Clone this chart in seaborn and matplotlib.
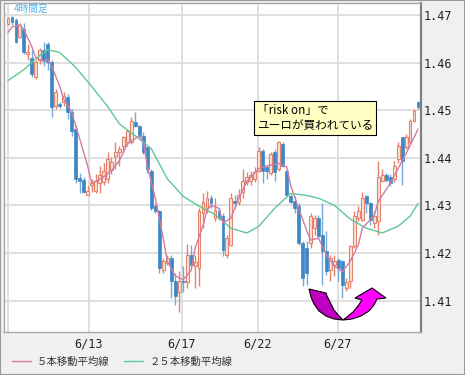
import numpy as np
import matplotlib
matplotlib.use("Agg")
import matplotlib.pyplot as plt
import seaborn as sns
from matplotlib.lines import Line2D
from matplotlib.patches import Polygon, Rectangle

# 4-hour candles (EUR/USD)
opens = [1.4681, 1.4696, 1.4690, 1.4654, 1.4671, 1.4617, 1.4610, 1.4569, 1.4606, 1.4627,
         1.4638, 1.4602, 1.4508, 1.4513, 1.4517, 1.4527, 1.4496, 1.4460, 1.4358, 1.4354,
         1.4321, 1.4342, 1.4331, 1.4346, 1.4350, 1.4356, 1.4375, 1.4404, 1.4413, 1.4425,
         1.4433, 1.4433, 1.4475, 1.4467, 1.4446, 1.4423, 1.4373, 1.4298, 1.4288, 1.4165,
         1.4179, 1.4190, 1.4142, 1.4117, 1.4142, 1.4138, 1.4196, 1.4173, 1.4169, 1.4283,
         1.4294, 1.4315, 1.4273, 1.4288, 1.4277, 1.4196, 1.4217, 1.4310, 1.4308, 1.4329,
         1.4350, 1.4352, 1.4356, 1.4373, 1.4415, 1.4381, 1.4367, 1.4413, 1.4377, 1.4429,
         1.4373, 1.4319, 1.4310, 1.4298, 1.4221, 1.4210, 1.4221, 1.4252, 1.4273, 1.4238,
         1.4204, 1.4165, 1.4175, 1.4185, 1.4183, 1.4127, 1.4142, 1.4215, 1.4273, 1.4269,
         1.4319, 1.4304, 1.4263, 1.4267, 1.4352, 1.4363, 1.4360, 1.4356, 1.4398, 1.4444,
         1.4423, 1.4433, 1.4477, 1.4517]
closes = [1.4694, 1.4685, 1.4644, 1.4679, 1.4623, 1.4623, 1.4575, 1.4602, 1.4627, 1.4606,
          1.4602, 1.4506, 1.4538, 1.4508, 1.4529, 1.4496, 1.4456, 1.4356, 1.4352, 1.4329,
          1.4331, 1.4346, 1.4352, 1.4363, 1.4373, 1.4398, 1.4392, 1.4413, 1.4419, 1.4444,
          1.4456, 1.4477, 1.4467, 1.4446, 1.4413, 1.4377, 1.4294, 1.4288, 1.4169, 1.4183,
          1.4190, 1.4142, 1.4110, 1.4142, 1.4138, 1.4196, 1.4175, 1.4181, 1.4288, 1.4308,
          1.4315, 1.4304, 1.4290, 1.4273, 1.4206, 1.4231, 1.4315, 1.4304, 1.4321, 1.4352,
          1.4360, 1.4363, 1.4371, 1.4415, 1.4373, 1.4373, 1.4408, 1.4371, 1.4433, 1.4383,
          1.4321, 1.4308, 1.4294, 1.4221, 1.4148, 1.4158, 1.4277, 1.4273, 1.4235, 1.4204,
          1.4163, 1.4190, 1.4183, 1.4169, 1.4133, 1.4138, 1.4215, 1.4277, 1.4288, 1.4315,
          1.4304, 1.4269, 1.4277, 1.4360, 1.4363, 1.4354, 1.4346, 1.4383, 1.4425, 1.4394,
          1.4444, 1.4477, 1.4498, 1.4506]
highs = [1.4696, 1.4698, 1.4694, 1.4683, 1.4683, 1.4638, 1.4627, 1.4606, 1.4631, 1.4644,
         1.4644, 1.4606, 1.4544, 1.4517, 1.4538, 1.4533, 1.4502, 1.4469, 1.4367, 1.4360,
         1.4340, 1.4356, 1.4365, 1.4383, 1.4388, 1.4413, 1.4402, 1.4433, 1.4425, 1.4446,
         1.4460, 1.4485, 1.4496, 1.4469, 1.4454, 1.4425, 1.4377, 1.4304, 1.4290, 1.4190,
         1.4196, 1.4196, 1.4158, 1.4163, 1.4173, 1.4219, 1.4217, 1.4196, 1.4294, 1.4325,
         1.4331, 1.4321, 1.4315, 1.4294, 1.4283, 1.4238, 1.4325, 1.4321, 1.4335, 1.4377,
         1.4371, 1.4373, 1.4381, 1.4423, 1.4419, 1.4383, 1.4413, 1.4419, 1.4435, 1.4433,
         1.4377, 1.4323, 1.4319, 1.4304, 1.4225, 1.4225, 1.4283, 1.4279, 1.4279, 1.4304,
         1.4246, 1.4196, 1.4196, 1.4190, 1.4185, 1.4148, 1.4217, 1.4288, 1.4298, 1.4329,
         1.4321, 1.4308, 1.4288, 1.4394, 1.4377, 1.4367, 1.4365, 1.4394, 1.4433, 1.4444,
         1.4450, 1.4481, 1.4502, 1.4519]
lows = [1.4679, 1.4679, 1.4642, 1.4652, 1.4617, 1.4606, 1.4569, 1.4565, 1.4596, 1.4592,
        1.4585, 1.4485, 1.4502, 1.4504, 1.4508, 1.4481, 1.4446, 1.4346, 1.4325, 1.4325,
        1.4321, 1.4329, 1.4325, 1.4325, 1.4342, 1.4346, 1.4365, 1.4377, 1.4383, 1.4413,
        1.4425, 1.4429, 1.4465, 1.4444, 1.4408, 1.4367, 1.4290, 1.4283, 1.4158, 1.4158,
        1.4175, 1.4106, 1.4090, 1.4075, 1.4117, 1.4127, 1.4173, 1.4127, 1.4131, 1.4252,
        1.4283, 1.4294, 1.4267, 1.4269, 1.4194, 1.4190, 1.4215, 1.4294, 1.4300, 1.4315,
        1.4342, 1.4342, 1.4350, 1.4371, 1.4346, 1.4356, 1.4363, 1.4352, 1.4373, 1.4381,
        1.4319, 1.4304, 1.4283, 1.4217, 1.4131, 1.4133, 1.4210, 1.4238, 1.4231, 1.4133,
        1.4154, 1.4142, 1.4152, 1.4142, 1.4106, 1.4121, 1.4127, 1.4210, 1.4267, 1.4267,
        1.4283, 1.4258, 1.4252, 1.4238, 1.4352, 1.4350, 1.4340, 1.4350, 1.4388, 1.4342,
        1.4419, 1.4429, 1.4475, 1.4502]

# moving averages, read at selected bars
ma5_bar = [0, 1, 3, 4, 6, 7, 9, 10, 11, 13, 14, 16, 18, 20, 21, 22, 24, 26, 28, 30,
           33, 34, 35, 37, 39, 40, 42, 44, 46, 47, 49, 50, 51, 53, 54, 56, 58, 60, 63, 65,
           68, 70, 71, 73, 75, 76, 78, 80, 82, 84, 86, 88, 89, 92, 93, 96, 98, 101, 103]
ma5_val = [1.4663, 1.4675, 1.4679, 1.4669, 1.4633, 1.4610, 1.4602, 1.4606, 1.4592, 1.4550,
           1.4523, 1.4496, 1.4440, 1.4383, 1.4348, 1.4350, 1.4360, 1.4373, 1.4394, 1.4429,
           1.4446, 1.4433, 1.4383, 1.4315, 1.4231, 1.4183, 1.4152, 1.4144, 1.4163, 1.4210,
           1.4258, 1.4290, 1.4300, 1.4294, 1.4263, 1.4273, 1.4315, 1.4350, 1.4377, 1.4383,
           1.4388, 1.4381, 1.4342, 1.4294, 1.4248, 1.4227, 1.4231, 1.4196, 1.4173, 1.4160,
           1.4183, 1.4217, 1.4252, 1.4279, 1.4308, 1.4346, 1.4377, 1.4425, 1.4460]
ma25_bar = [0, 4, 8, 10, 13, 17, 21, 25, 28, 32, 36, 40, 44, 48, 52, 56, 60, 63, 67, 71,
            75, 78, 82, 86, 90, 94, 98, 101, 103]
ma25_val = [1.4562, 1.4585, 1.4615, 1.4627, 1.4621, 1.4590, 1.4550, 1.4508, 1.4471, 1.4446,
            1.4419, 1.4356, 1.4319, 1.4298, 1.4281, 1.4252, 1.4242, 1.4256, 1.4294, 1.4325,
            1.4321, 1.4315, 1.4300, 1.4271, 1.4252, 1.4242, 1.4256, 1.4277, 1.4304]

date_pos = [0, 20.35, 43.7, 62.8, 82.9]
date_labels = ["", "6/13", "6/17", "6/22", "6/27"]
price_ticks = [1.41, 1.42, 1.43, 1.44, 1.45, 1.46, 1.47]

sns.set_theme(style="white")
plt.rcParams["font.family"] = ["Noto Sans CJK JP", "DejaVu Sans"]

W, H = 465, 375


def fx(x):
    return x / W


def fy(y):
    return 1 - y / H


fig = plt.figure(figsize=(W / 100, H / 100), dpi=100, facecolor="#f0f0f0")
ax = fig.add_axes([fx(4), fy(332), (421 - 4) / W, (332 - 3) / H])
ax.set_facecolor("white")

o = np.array(opens)
c = np.array(closes)
h = np.array(highs)
l = np.array(lows)
idx = np.arange(len(c))
up = c >= o

up_edge, up_fill = "#e5826c", "#fbe2da"
dn_body, dn_wick = "#3f86c4", "#73aad9"

ax.vlines(idx[up], l[up], h[up], color=up_edge, lw=1, zorder=2)
ax.vlines(idx[~up], l[~up], h[~up], color=dn_wick, lw=1, zorder=2)
ax.bar(idx[up], np.maximum(c - o, 0.0001)[up], bottom=o[up], width=0.72,
       facecolor=up_fill, edgecolor=up_edge, lw=0.8, zorder=3)
ax.bar(idx[~up], np.maximum(o - c, 0.0001)[~up], bottom=c[~up], width=0.72,
       facecolor=dn_body, edgecolor=dn_body, lw=0.5, zorder=3)

ma5_color, ma25_color = "#d27ca3", "#5cc998"
sns.lineplot(x=ma25_bar, y=ma25_val, color=ma25_color, lw=1, ax=ax, zorder=4)
sns.lineplot(x=ma5_bar, y=ma5_val, color=ma5_color, lw=1, ax=ax, zorder=5)

ax.set_xlim(-1.0, 103.75)
ax.set_ylim(1.4034, 1.4725)
ax.set_xticks(date_pos)
ax.set_xticklabels(date_labels, family="DejaVu Sans Mono", fontsize=8.5, color="#222222")
ax.set_yticks(price_ticks)
ax.set_yticklabels([f"{t:.2f}" for t in price_ticks], family="DejaVu Sans Mono",
                   fontsize=8.5, color="#222222")
ax.yaxis.tick_right()
ax.tick_params(axis="y", length=0, pad=2)
ax.tick_params(axis="x", length=0, pad=4)
ax.grid(True, color="#dcdcdc", lw=1.3, zorder=0)
ax.set_axisbelow(True)
ax.set_xlabel("")
ax.set_ylabel("")
for side in ["left", "top", "bottom"]:
    ax.spines[side].set_color("#a8a8a8")
    ax.spines[side].set_linewidth(1)
ax.spines["right"].set_color("#808080")
ax.spines["right"].set_linewidth(1.6)

fig.text(fx(14), fy(9), "4時間足", color="#52b4e6", fontsize=7, va="center", ha="left")

fig.text(fx(257), fy(118), "「risk on」で\nユーロが買われている", fontsize=8.4,
         va="center", ha="left", linespacing=1.2, color="black",
         bbox=dict(boxstyle="square,pad=0.25", fc="#ffffc4", ec="black", lw=0.8))

# U-turn arrow
left_piece = [(309, 289), (311, 297), (314, 304), (319, 311), (326, 316), (334, 319),
              (343, 320), (339, 316), (334, 310), (330, 302), (327, 296), (326, 293)]
right_piece = [(343, 320), (352, 319), (361, 316), (369, 311), (374, 305), (377, 299),
               (386, 298), (372, 288), (355, 298), (362, 300), (358, 306), (353, 312),
               (347, 317)]
fig.add_artist(Polygon([(fx(x), fy(y)) for x, y in left_piece], closed=True,
                       transform=fig.transFigure, fc="#c000c0", ec="black", lw=0.8))
fig.add_artist(Polygon([(fx(x), fy(y)) for x, y in right_piece], closed=True,
                       transform=fig.transFigure, fc="#ff00ff", ec="black", lw=0.8))

handles = [Line2D([], [], color=ma5_color, lw=1), Line2D([], [], color=ma25_color, lw=1)]
fig.legend(handles, ["５本移動平均線", "２５本移動平均線"], loc="center left",
           bbox_to_anchor=(fx(12), fy(362)), ncol=2, frameon=False, fontsize=7.5,
           handlelength=1.8, handletextpad=0.6, columnspacing=1.4,
           borderaxespad=0, borderpad=0, labelcolor="#333333")

fig.add_artist(Rectangle((0, 0), 1, 1, transform=fig.transFigure, fill=False,
                         ec="#9a9a9a", lw=1.5))

fig.savefig("out.png", dpi=100, facecolor=fig.get_facecolor())
